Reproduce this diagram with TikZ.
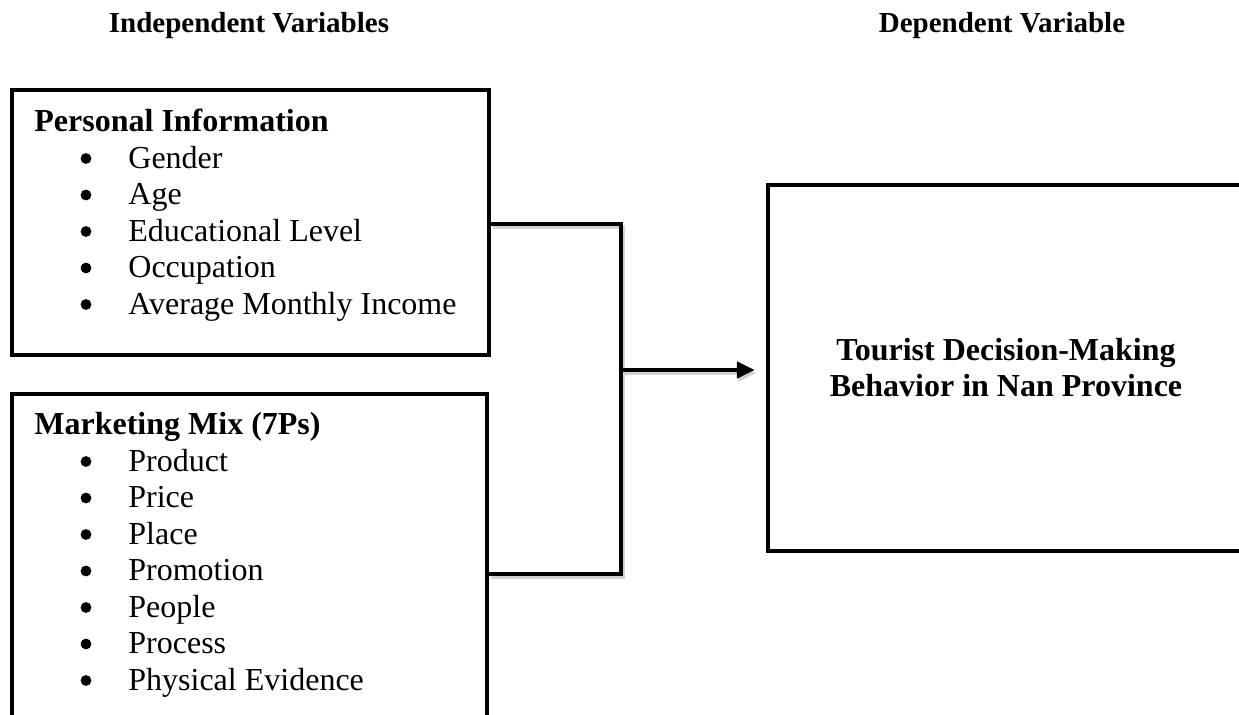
\documentclass[tikz,border=0pt]{standalone}
\usepackage{fontspec}
\setmainfont{Liberation Serif}
\usetikzlibrary{arrows.meta,positioning,calc}

\begin{document}
\begin{tikzpicture}[x=0.5pt, y=-0.5pt,
  box/.style={draw, line width=2.2pt, inner sep=0pt, anchor=north west},
  hdr/.style={font=\fontsize{14.5}{17}\selectfont\bfseries, anchor=base, inner sep=0pt},
  ttl/.style={font=\fontsize{16}{18.25}\selectfont\bfseries, anchor=base west, inner sep=0pt},
  itm/.style={font=\fontsize{16}{18.25}\selectfont, anchor=base west, inner sep=0pt},
  bul/.style={circle, fill, inner sep=0pt, minimum size=5.4pt},
  conn/.style={line width=2.3pt, preaction={draw=black!18, line width=2.3pt, transform canvas={shift={(0.8pt,-1.5pt)}}}},
  arr/.style={conn, -{Triangle[length=9pt, width=8pt]}}
]
\useasboundingbox (0,0) rectangle (1239,715);
\fill[white] (0,0) rectangle (1239,715);
\clip (0,0) rectangle (1239,715);
% ---- headers
\node[hdr] (hind) at (249,33) {Independent Variables};
\node[hdr] (hdep) at (1002,33) {Dependent Variable};
% ---- personal information
\node[box, minimum width=238.5pt, minimum height=132.5pt] (pinfo) at (10,88) {};
\node[ttl] (pttl) at (34,132) {Personal Information};
\foreach \v [count=\i] in {Gender, Age, Educational Level, Occupation, Average Monthly Income} {
  \node[bul] (pb\i) at (86,{122+36.5*\i}) {};
  \node[itm] (pi\i) at (128,{132+36.5*\i}) {\v};
}
% ---- marketing mix
\node[box, minimum width=237.5pt, minimum height=169.5pt] (mmix) at (10,392) {};
\node[ttl] (mttl) at (34,435) {Marketing Mix (7Ps)};
\foreach \v [count=\i] in {Product, Price, Place, Promotion, People, Process, Physical Evidence} {
  \node[bul] (mb\i) at (86,{425+36.5*\i}) {};
  \node[itm] (mi\i) at (128,{435+36.5*\i}) {\v};
}
% ---- dependent variable
\node[box, anchor=center, minimum width=238pt, minimum height=183pt, align=center,
  font=\fontsize{16}{18}\selectfont\bfseries] (tdmb) at (1006,368) {Tourist Decision-Making\\Behavior in Nan Province};
% ---- connectors
\coordinate (jtop) at (621,224);
\coordinate (jmid) at (621,370);
\coordinate (jbot) at (621,574);
\draw[conn] (pinfo.east |- jtop) -- (jtop) -- (jbot) -- (mmix.east |- jbot);
\draw[arr, shorten >=5.5pt] (jmid) -- (tdmb.west |- jmid);
\end{tikzpicture}
\end{document}
